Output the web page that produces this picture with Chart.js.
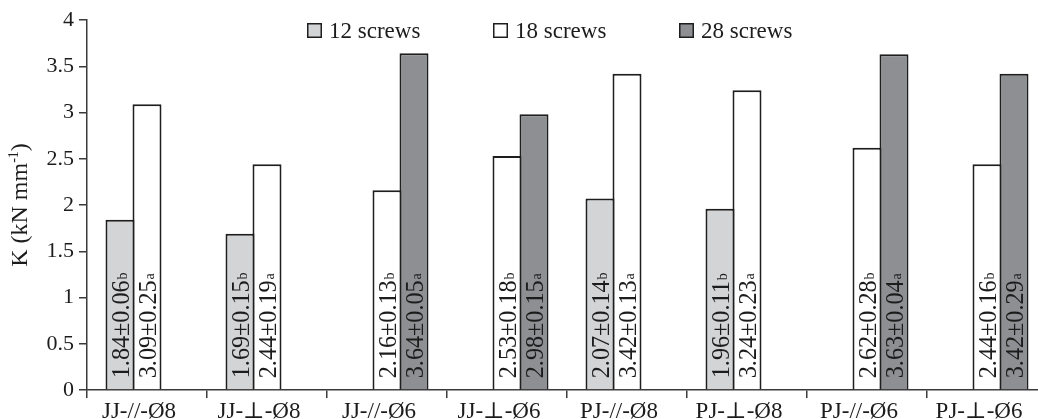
<!DOCTYPE html>
<html>
<head>
<meta charset="utf-8">
<script src="https://cdn.jsdelivr.net/npm/chart.js@4.4.1/dist/chart.umd.min.js"></script>
<style>
  html, body { margin: 0; padding: 0; background: #fff; overflow: hidden; }
  #wrap { width: 1047px; height: 419px; }
</style>
</head>
<body>
<div id="wrap"><canvas id="c" width="1047" height="419"></canvas></div>
<script>
// Stiffness K (kN mm-1) per joint configuration and screw count
const categories = ['JJ-//-Ø8', 'JJ-⊥-Ø8', 'JJ-//-Ø6', 'JJ-⊥-Ø6', 'PJ-//-Ø8', 'PJ-⊥-Ø8', 'PJ-//-Ø6', 'PJ-⊥-Ø6'];

const screws12 = [1.84, 1.69, null, null, 2.07, 1.96, null, null];
const screws18 = [3.09, 2.44, 2.16, 2.53, 3.42, 3.24, 2.62, 2.44];
const screws28 = [null, null, 3.64, 2.98, null, null, 3.63, 3.42];

const sd12 = [0.06, 0.15, null, null, 0.14, 0.11, null, null];
const sd18 = [0.25, 0.19, 0.13, 0.18, 0.13, 0.23, 0.28, 0.16];
const sd28 = [null, null, 0.05, 0.15, null, null, 0.04, 0.29];

const sig12 = ['b', 'b', null, null, 'b', 'b', null, null];
const sig18 = ['a', 'a', 'b', 'b', 'a', 'a', 'b', 'b'];
const sig28 = [null, null, 'a', 'a', null, null, 'a', 'a'];

const yTicks = [0, 0.5, 1, 1.5, 2, 2.5, 3, 3.5, 4];

const SERIF = "'Liberation Serif', 'Times New Roman', 'DejaVu Serif', serif";
const INK = '#1c1c1c';
const AXIS = '#3a3a3a';
const EDGE = '#1e1e1e';

// Vertical "mean±sd + letter" text inside each bar
const barLabels = {
  id: 'barLabels',
  afterDatasetsDraw(chart) {
    const c = chart.ctx;
    chart.data.datasets.forEach((ds, di) => {
      const meta = chart.getDatasetMeta(di);
      meta.data.forEach((bar, i) => {
        const v = ds.data[i];
        if (v == null) return;
        const main = v.toFixed(2) + '±' + ds.sd[i].toFixed(2);
        c.save();
        c.translate(bar.x, bar.base - 11);
        c.rotate(-Math.PI / 2);
        c.scale(0.93, 1);
        c.fillStyle = INK;
        c.textAlign = 'left';
        c.textBaseline = 'alphabetic';
        c.font = '26px ' + SERIF;
        c.fillText(main, 0, 9);
        const w = c.measureText(main).width;
        c.font = '15px ' + SERIF;
        c.fillText(ds.sig[i], w + 1, 7);
        c.restore();
      });
    });
  }
};

// Rotated y-axis title with superscript exponent
const yTitle = {
  id: 'yTitle',
  afterDraw(chart) {
    const c = chart.ctx;
    const area = chart.chartArea;
    const big = '24px ' + SERIF, small = '14px ' + SERIF;
    const parts = [['K (kN mm', big, 0], ['-1', small, -9], [')', big, 0]];
    c.save();
    let total = 0;
    parts.forEach(p => { c.font = p[1]; total += c.measureText(p[0]).width; });
    c.translate(27, (area.top + area.bottom) / 2);
    c.rotate(-Math.PI / 2);
    c.fillStyle = INK;
    c.textAlign = 'left';
    c.textBaseline = 'alphabetic';
    let x = -total / 2;
    parts.forEach(p => {
      c.font = p[1];
      c.fillText(p[0], x, p[2]);
      x += c.measureText(p[0]).width;
    });
    c.restore();
  }
};

// Single-row legend across the top of the plot
const legendRow = {
  id: 'legendRow',
  afterDraw(chart) {
    const c = chart.ctx;
    const size = 15, top = 23;
    let x = 307;
    c.save();
    chart.data.datasets.forEach(ds => {
      c.fillStyle = ds.backgroundColor;
      c.fillRect(x, top, size, size);
      c.strokeStyle = EDGE;
      c.lineWidth = 1.5;
      c.strokeRect(x + 0.75, top + 0.75, size - 1.5, size - 1.5);
      c.fillStyle = INK;
      c.font = '23px ' + SERIF;
      c.textAlign = 'left';
      c.textBaseline = 'alphabetic';
      c.fillText(ds.label, x + 22, 38);
      x += 186;
    });
    c.restore();
  }
};

new Chart(document.getElementById('c'), {
  type: 'bar',
  data: {
    labels: categories,
    datasets: [
      { label: '12 screws', data: screws12, sd: sd12, sig: sig12, backgroundColor: '#d3d4d6' },
      { label: '18 screws', data: screws18, sd: sd18, sig: sig18, backgroundColor: '#ffffff' },
      { label: '28 screws', data: screws28, sd: sd28, sig: sig28, backgroundColor: '#8e8f92' }
    ]
  },
  options: {
    responsive: false,
    animation: false,
    layout: { padding: { top: 20, right: 0, bottom: 0, left: 0 } },
    datasets: {
      bar: {
        categoryPercentage: 0.675,
        barPercentage: 29 / 27,
        borderColor: EDGE,
        borderWidth: 2,
        borderSkipped: 'start'
      }
    },
    plugins: { legend: { display: false }, tooltip: { enabled: false } },
    scales: {
      x: {
        grid: { drawOnChartArea: false, drawTicks: true, tickLength: 8, color: AXIS, lineWidth: 1.5, offset: true },
        border: { color: AXIS, width: 1.5 },
        ticks: { font: { family: SERIF, size: 23 }, color: INK, padding: 0, labelOffset: -8, maxRotation: 0, autoSkip: false },
        afterFit(s) { s.height = 29; }
      },
      y: {
        min: 0,
        max: 4,
        afterBuildTicks(s) { s.ticks = yTicks.map(v => ({ value: v })); },
        grid: { drawOnChartArea: false, drawTicks: true, tickLength: 8, color: AXIS, lineWidth: 1.5 },
        border: { color: AXIS, width: 1.5 },
        ticks: { font: { family: SERIF, size: 22 }, color: INK, padding: 5, callback: v => String(v) },
        afterFit(s) { s.width = 87; }
      }
    }
  },
  plugins: [barLabels, yTitle, legendRow]
});
</script>
</body>
</html>
